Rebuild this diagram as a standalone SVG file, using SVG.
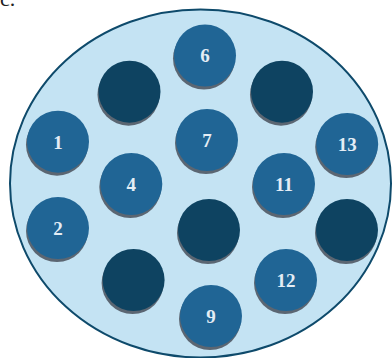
<svg xmlns="http://www.w3.org/2000/svg" width="392" height="358" viewBox="0 0 392 358">
<defs>
<style>
.bg{fill:#c4e3f3;stroke:#0e4a6b;stroke-width:2}
.sh{fill:#5b6672}
.n{fill:#206595}
.d{fill:#0e4361}
.t{font-family:"Liberation Serif","Times New Roman",serif;font-weight:bold;font-size:19px;fill:#e4edf5;text-anchor:middle}
.c{font-family:"Liberation Serif","Times New Roman",serif;font-size:22px;fill:#222}
</style>
</defs>
<rect width="392" height="358" fill="#ffffff"/>
<text class="c" x="0" y="6">c.</text>
<ellipse class="bg" cx="200.5" cy="183.5" rx="190.5" ry="174"/>
<g id="node6"><circle class="sh" cx="204" cy="58.5" r="31"/><circle class="n" cx="205" cy="55.5" r="31"/><text class="t" x="205" y="62">6</text></g>
<g id="dark1"><circle class="sh" cx="128.5" cy="94.7" r="31"/><circle class="d" cx="129.5" cy="91.7" r="31"/></g>
<g id="dark2"><circle class="sh" cx="281" cy="94.7" r="31"/><circle class="d" cx="282" cy="91.7" r="31"/></g>
<g id="node1"><circle class="sh" cx="57" cy="144.7" r="31"/><circle class="n" cx="58" cy="141.7" r="31"/><text class="t" x="58" y="148.5">1</text></g>
<g id="node7"><circle class="sh" cx="206" cy="143" r="31"/><circle class="n" cx="207" cy="140" r="31"/><text class="t" x="207" y="146.5">7</text></g>
<g id="node13"><circle class="sh" cx="346.2" cy="147" r="31"/><circle class="n" cx="347.2" cy="144" r="31"/><text class="t" x="347.2" y="150.5">13</text></g>
<g id="node4"><circle class="sh" cx="130.3" cy="187" r="31"/><circle class="n" cx="131.3" cy="184" r="31"/><text class="t" x="131.3" y="190.5">4</text></g>
<g id="node11"><circle class="sh" cx="283" cy="187" r="31"/><circle class="n" cx="284" cy="184" r="31"/><text class="t" x="284" y="190.5">11</text></g>
<g id="node2"><circle class="sh" cx="57" cy="231" r="31"/><circle class="n" cx="58" cy="228" r="31"/><text class="t" x="58" y="234.5">2</text></g>
<g id="dark3"><circle class="sh" cx="208" cy="233" r="31"/><circle class="d" cx="209" cy="230" r="31"/></g>
<g id="dark4"><circle class="sh" cx="346" cy="233" r="31"/><circle class="d" cx="347" cy="230" r="31"/></g>
<g id="dark5"><circle class="sh" cx="132.6" cy="283" r="31"/><circle class="d" cx="133.6" cy="280" r="31"/></g>
<g id="node12"><circle class="sh" cx="285" cy="283" r="31"/><circle class="n" cx="286" cy="280" r="31"/><text class="t" x="286" y="286.5">12</text></g>
<g id="node9"><circle class="sh" cx="210" cy="319" r="31"/><circle class="n" cx="211" cy="316" r="31"/><text class="t" x="211" y="322.5">9</text></g>
<g id="connectors"></g>
</svg>
